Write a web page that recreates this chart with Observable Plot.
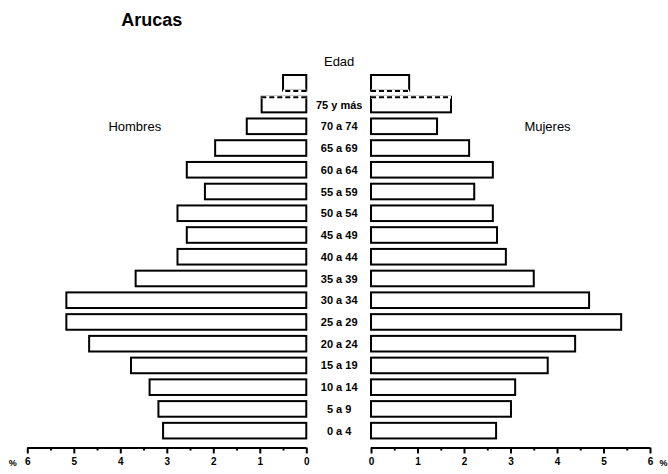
<!DOCTYPE html>
<html>
<head>
<meta charset="utf-8">
<script src="https://cdn.jsdelivr.net/npm/d3@7"></script>
<script src="https://cdn.jsdelivr.net/npm/@observablehq/plot@0.6"></script>
<style>
  html, body { margin: 0; padding: 0; background: #fff; }
</style>
</head>
<body>
<div id="chart"></div>
<script>
// Age groups, bottom to top (the top bar is the unlabeled continuation of "75 y más")
const ages = ["0 a 4", "5 a 9", "10 a 14", "15 a 19", "20 a 24", "25 a 29", "30 a 34",
  "35 a 39", "40 a 44", "45 a 49", "50 a 54", "55 a 59", "60 a 64", "65 a 69",
  "70 a 74", "75 y más", ""];
// Percent of population
const hombres = [3.08, 3.18, 3.37, 3.77, 4.67, 5.16, 5.16, 3.67, 2.77, 2.57, 2.77, 2.18, 2.57, 1.96, 1.28, 0.96, 0.5];
const mujeres = [2.69, 3.01, 3.10, 3.80, 4.39, 5.38, 4.69, 3.50, 2.90, 2.71, 2.62, 2.22, 2.62, 2.11, 1.42, 1.72, 0.82];
const tickValues = [0, 1, 2, 3, 4, 5, 6];
const minorTicks = [0.5, 1.5, 2.5, 3.5, 4.5, 5.5];
const title = "Arucas";
const axisTitle = "Edad";
const sideLabels = ["Hombres", "Mujeres"];

const off = 0.696;   // half of the central gap, in % units
const hh = 0.359;    // half bar thickness, in row units
const yMin = -0.775; // axis line position (row units)
const yMax = 17.5;

const rows = ages.map((age, i) => ({i, age, h: hombres[i], m: mujeres[i]}));
const leftX = t => -off - t;
const rightX = t => off + t;

const font = "Liberation Sans, Arial, Helvetica, sans-serif";

const edgeMarks = (datum, yEdge) => [
  Plot.ruleY([datum], {y: yEdge, x1: () => leftX(0), x2: d => leftX(d.h), stroke: "white", strokeWidth: 3}),
  Plot.ruleY([datum], {y: yEdge, x1: () => leftX(0), x2: d => leftX(d.h), stroke: "black", strokeWidth: 2, strokeDasharray: "5,3"}),
  Plot.ruleY([datum], {y: yEdge, x1: () => rightX(0), x2: d => rightX(d.m), stroke: "white", strokeWidth: 3}),
  Plot.ruleY([datum], {y: yEdge, x1: () => rightX(0), x2: d => rightX(d.m), stroke: "black", strokeWidth: 2, strokeDasharray: "5,3"})
];

const chart = Plot.plot({
  width: 668,
  height: 474,
  marginLeft: 27.3,
  marginRight: 18,
  marginTop: 50.2,
  marginBottom: 26.5,
  style: {fontFamily: font, background: "white", overflow: "visible"},
  x: {domain: [leftX(6), rightX(6)], axis: null},
  y: {domain: [yMin, yMax], axis: null},
  marks: [
    // bars
    Plot.rectX(rows, {y1: d => d.i - hh, y2: d => d.i + hh, x1: () => leftX(0), x2: d => leftX(d.h),
      fill: "white", stroke: "black", strokeWidth: 2}),
    Plot.rectX(rows, {y1: d => d.i - hh, y2: d => d.i + hh, x1: () => rightX(0), x2: d => rightX(d.m),
      fill: "white", stroke: "black", strokeWidth: 2}),
    // dashed joins between "75 y más" and its continuation
    ...edgeMarks(rows[16], d => d.i - hh),
    ...edgeMarks(rows[15], d => d.i + hh),
    // age labels
    Plot.text(rows, {x: () => 0, y: "i", text: "age", fontSize: 11, fontWeight: "bold", fill: "black"}),
    Plot.text([axisTitle], {x: () => 0, y: () => ages.length, text: d => d, fontSize: 13, fill: "black"}),
    // side labels
    Plot.text([sideLabels[0]], {frameAnchor: "left", y: () => 14, dx: 107, text: d => d, textAnchor: "middle", fontSize: 13, fill: "black"}),
    Plot.text([sideLabels[1]], {frameAnchor: "right", y: () => 14, dx: -103, text: d => d, textAnchor: "middle", fontSize: 13, fill: "black"}),
    // title
    Plot.text([title], {frameAnchor: "top-left", dx: 124, dy: -37, text: d => d, textAnchor: "middle",
      fontSize: 18, fontWeight: "bold", fill: "black"}),
    // axis lines
    Plot.ruleY([{a: leftX(0), b: leftX(6)}, {a: rightX(0), b: rightX(6)}],
      {y: () => yMin, x1: "a", x2: "b", stroke: "black", strokeWidth: 2}),
    // major ticks + labels
    Plot.axisX([...tickValues.map(leftX), ...tickValues.map(rightX)], {
      anchor: "bottom", tickSize: 6, tickPadding: 4, strokeWidth: 2, label: null,
      tickFormat: d => String(Math.round(Math.abs(d) - off)),
      fontSize: 10, fontWeight: "bold", fill: "black"
    }),
    // minor ticks
    Plot.axisX([...minorTicks.map(leftX), ...minorTicks.map(rightX)], {
      anchor: "bottom", tickSize: 3, strokeWidth: 2, label: null, tickFormat: () => ""
    }),
    // percent signs
    Plot.text(["%"], {x: () => leftX(6), y: () => yMin, dx: -15, dy: 15, text: d => d, fontSize: 9, fontWeight: "bold", fill: "black"}),
    Plot.text(["%"], {x: () => rightX(6), y: () => yMin, dx: 13, dy: 15, text: d => d, fontSize: 9, fontWeight: "bold", fill: "black"})
  ]
});

document.getElementById("chart").appendChild(chart);
</script>
</body>
</html>
